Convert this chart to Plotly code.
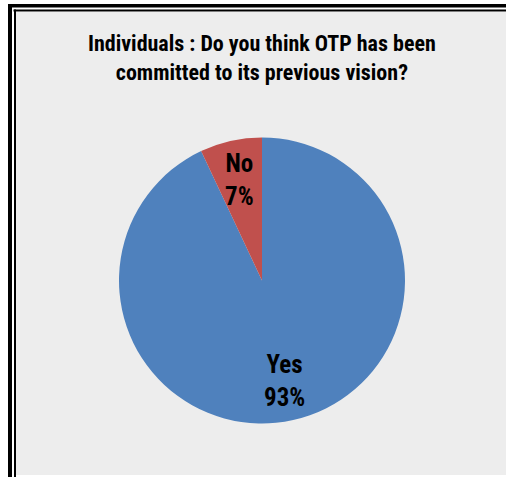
import math
import plotly.graph_objects as go

# Survey answers (percent of individuals), drawn clockwise from 12 o'clock
labels = ["Yes", "No"]
values = [93, 7]
colors = ["#4F81BD", "#C0504D"]

title_lines = ["Individuals : Do you think OTP has been", "committed to its previous vision?"]

W, H = 506, 477
FONT = "Roboto Condensed, Liberation Sans Narrow, Arial Narrow, sans-serif"

def px(x):
    return x / W

def py(y):
    return 1 - y / H

# pie placement in pixels
cx, cy, R = 262, 280.5, 143

fig = go.Figure(
    go.Pie(
        labels=labels,
        values=values,
        marker=dict(colors=colors, line=dict(width=0)),
        sort=False,
        direction="clockwise",
        rotation=0,
        textinfo="none",
        hoverinfo="label+percent",
        showlegend=False,
        domain=dict(x=[px(cx - R), px(cx + R)], y=[py(cy + R), py(cy - R)]),
    )
)

# frame: grey panel with a double black rule on top and left
shapes = [
    dict(type="rect", x0=px(16), x1=px(506), y0=py(475), y1=py(12),
         fillcolor="#EDEDED", line=dict(width=0), layer="below"),
    dict(type="rect", x0=px(8), x1=px(506), y0=py(7.5), y1=py(4),
         fillcolor="black", line=dict(width=0), layer="below"),
    dict(type="rect", x0=px(8), x1=px(12), y0=py(477), y1=py(4),
         fillcolor="black", line=dict(width=0), layer="below"),
    dict(type="rect", x0=px(13.5), x1=px(506), y0=py(11.5), y1=py(9.5),
         fillcolor="black", line=dict(width=0), layer="below"),
    dict(type="rect", x0=px(14), x1=px(16), y0=py(477), y1=py(9.5),
         fillcolor="black", line=dict(width=0), layer="below"),
]

annotations = [
    dict(text="<b>" + "<br>".join(title_lines) + "</b>", x=px(262), y=py(58),
         xref="paper", yref="paper", xanchor="center", yanchor="middle",
         showarrow=False, font=dict(family=FONT, size=22, color="black"),
         align="center"),
]

# data labels at the middle angle of each slice (angles clockwise from 12 o'clock)
total = sum(values)
start = 0.0
for lab, val in zip(labels, values):
    sweep = 360.0 * val / total
    mid = math.radians(start + sweep / 2)
    start += sweep
    r = 0.72 * R
    x = cx + r * math.sin(mid)
    y = cy - r * math.cos(mid)
    pct = round(100 * val / total)
    annotations.append(
        dict(text=f"<b>{lab}<br>{pct}%</b>", x=px(x), y=py(y),
             xref="paper", yref="paper", xanchor="center", yanchor="middle",
             showarrow=False, font=dict(family=FONT, size=25, color="black"),
             align="center")
    )

fig.update_layout(
    width=W,
    height=H,
    margin=dict(l=0, r=0, t=0, b=0),
    paper_bgcolor="white",
    plot_bgcolor="white",
    shapes=shapes,
    annotations=annotations,
)

fig.write_html("out.html")
